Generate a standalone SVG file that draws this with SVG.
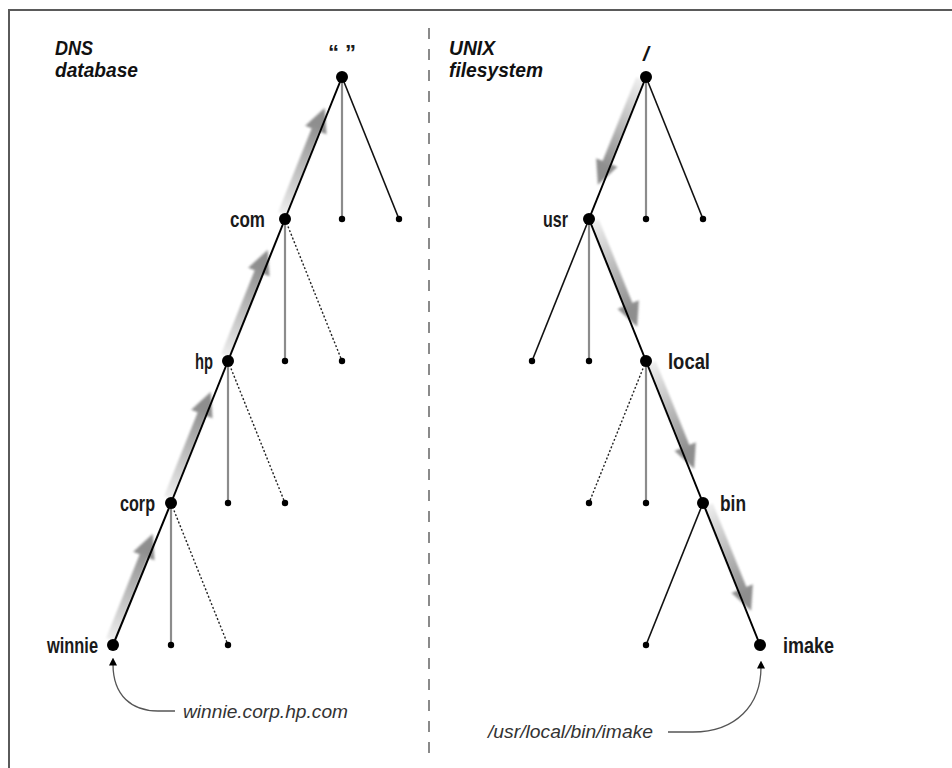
<svg xmlns="http://www.w3.org/2000/svg" xmlns:xlink="http://www.w3.org/1999/xlink" width="952" height="768" viewBox="0 0 952 768">
<style>
.frame{stroke:#5a5a5a;stroke-width:2;fill:none}
.div{stroke:#8a8a8a;stroke-width:2;stroke-dasharray:11 10;fill:none}
.blk{stroke:#111;stroke-width:1.6;fill:none}
.path{stroke:#000;stroke-width:2;fill:none}
.gry{stroke:#8c8c8c;stroke-width:2.2;fill:none}
.dot{stroke:#222;stroke-width:1.4;stroke-dasharray:2 2;fill:none}
.ann{stroke:#555;stroke-width:1.3;fill:none}
.big{fill:#000}
.leaf{fill:#000}
.lbl{font-family:"Liberation Sans",Arial,sans-serif;font-weight:bold;font-size:22px;fill:#1a1a1a}
.hdr{font-family:"Liberation Sans",Arial,sans-serif;font-weight:bold;font-style:italic;font-size:21px;fill:#111}
.cap{font-family:"Liberation Sans",Arial,sans-serif;font-style:italic;font-size:19px;fill:#333}
</style>
<defs>
<linearGradient id="bandGrad" x1="4" y1="0" x2="100" y2="0" gradientUnits="userSpaceOnUse">
<stop offset="0" stop-color="#eeeeee"/>
<stop offset="0.55" stop-color="#b8b8b8"/>
<stop offset="1" stop-color="#8e8e8e"/>
</linearGradient>
<filter id="soft" x="-20%" y="-50%" width="140%" height="200%">
<feGaussianBlur stdDeviation="0.8"/>
</filter>
<g id="shadow">
<path d="M4,0 L94,0 L94,7 L118,-4.5 L94,-16 L94,-9 L4,-9 Z" fill="url(#bandGrad)" filter="url(#soft)"/>
</g>
<marker id="tip" viewBox="0 0 10 10" refX="2" refY="5" markerWidth="8" markerHeight="8" orient="auto" markerUnits="userSpaceOnUse">
<path d="M0,0 L10,5 L0,10 Z" fill="#000"/>
</marker>
</defs>

<rect width="952" height="768" fill="#fff"/>
<path class="frame" d="M9,768 L9,10 L952,10"/>
<line class="div" x1="429" y1="28" x2="429" y2="756"/>

<g id="connectors">
<!-- shadow arrows DNS (upward) -->
<use xlink:href="#shadow" transform="translate(113,645) rotate(-68.13)"/>
<use xlink:href="#shadow" transform="translate(171,503) rotate(-68.13)"/>
<use xlink:href="#shadow" transform="translate(228,361) rotate(-68.13)"/>
<use xlink:href="#shadow" transform="translate(285,219) rotate(-68.13)"/>
<!-- shadow arrows UNIX (downward) -->
<use xlink:href="#shadow" transform="translate(646,77) rotate(111.87) scale(1,-1)"/>
<use xlink:href="#shadow" transform="translate(589,219) rotate(68.13)"/>
<use xlink:href="#shadow" transform="translate(646,361) rotate(68.13)"/>
<use xlink:href="#shadow" transform="translate(703,503) rotate(68.13)"/>

<!-- DNS tree -->
<line class="path" x1="342" y1="77" x2="285" y2="219"/>
<line class="gry" x1="342" y1="77" x2="342" y2="219"/>
<line class="blk" x1="342" y1="77" x2="399" y2="219"/>
<line class="path" x1="285" y1="219" x2="228" y2="361"/>
<line class="gry" x1="285" y1="219" x2="285" y2="361"/>
<line class="dot" x1="285" y1="219" x2="342" y2="361"/>
<line class="path" x1="228" y1="361" x2="171" y2="503"/>
<line class="gry" x1="228" y1="361" x2="228" y2="503"/>
<line class="dot" x1="228" y1="361" x2="285" y2="503"/>
<line class="path" x1="171" y1="503" x2="113" y2="645"/>
<line class="gry" x1="171" y1="503" x2="171" y2="645"/>
<line class="dot" x1="171" y1="503" x2="228" y2="645"/>

<!-- UNIX tree -->
<line class="path" x1="646" y1="77" x2="589" y2="219"/>
<line class="gry" x1="646" y1="77" x2="646" y2="219"/>
<line class="blk" x1="646" y1="77" x2="703" y2="219"/>
<line class="blk" x1="589" y1="219" x2="532" y2="361"/>
<line class="gry" x1="589" y1="219" x2="589" y2="361"/>
<line class="path" x1="589" y1="219" x2="646" y2="361"/>
<line class="dot" x1="646" y1="361" x2="589" y2="503"/>
<line class="gry" x1="646" y1="361" x2="646" y2="503"/>
<line class="path" x1="646" y1="361" x2="703" y2="503"/>
<line class="blk" x1="703" y1="503" x2="646" y2="645"/>
<line class="path" x1="703" y1="503" x2="760" y2="645"/>

<!-- annotation pointers -->
<path class="ann" d="M175,711 L158,711 C132,711 113,696 113,664" marker-end="url(#tip)"/>
<path class="ann" d="M668,732 L693,732 C736,732 761,705 761,667" marker-end="url(#tip)"/>
</g>

<g id="leaves">
<circle class="leaf" cx="342" cy="219" r="3.2"/>
<circle class="leaf" cx="399" cy="219" r="3.2"/>
<circle class="leaf" cx="285" cy="361" r="3.2"/>
<circle class="leaf" cx="342" cy="361" r="3.2"/>
<circle class="leaf" cx="228" cy="503" r="3.2"/>
<circle class="leaf" cx="285" cy="503" r="3.2"/>
<circle class="leaf" cx="171" cy="645" r="3.2"/>
<circle class="leaf" cx="228" cy="645" r="3.2"/>
<circle class="leaf" cx="646" cy="219" r="3.2"/>
<circle class="leaf" cx="703" cy="219" r="3.2"/>
<circle class="leaf" cx="532" cy="361" r="3.2"/>
<circle class="leaf" cx="589" cy="361" r="3.2"/>
<circle class="leaf" cx="589" cy="503" r="3.2"/>
<circle class="leaf" cx="646" cy="503" r="3.2"/>
<circle class="leaf" cx="646" cy="645" r="3.2"/>
</g>

<g id="dns-root"><circle class="big" cx="342" cy="77" r="6"/><text class="lbl" x="342" y="60" text-anchor="middle" font-size="10px">“ ”</text></g>
<g id="dns-com"><circle class="big" cx="285" cy="219" r="6"/><text class="lbl" x="230" y="227" textLength="35" lengthAdjust="spacingAndGlyphs">com</text></g>
<g id="dns-hp"><circle class="big" cx="228" cy="361" r="6"/><text class="lbl" x="195" y="369" textLength="18" lengthAdjust="spacingAndGlyphs">hp</text></g>
<g id="dns-corp"><circle class="big" cx="171" cy="503" r="6"/><text class="lbl" x="120" y="511" textLength="35" lengthAdjust="spacingAndGlyphs">corp</text></g>
<g id="dns-winnie"><circle class="big" cx="113" cy="645" r="6"/><text class="lbl" x="47" y="653" textLength="51" lengthAdjust="spacingAndGlyphs">winnie</text></g>

<g id="unix-root"><circle class="big" cx="646" cy="77" r="6"/><text class="hdr" x="646" y="61" text-anchor="middle">/</text></g>
<g id="unix-usr"><circle class="big" cx="589" cy="219" r="6"/><text class="lbl" x="543" y="227" textLength="25" lengthAdjust="spacingAndGlyphs">usr</text></g>
<g id="unix-local"><circle class="big" cx="646" cy="361" r="6"/><text class="lbl" x="668" y="369" textLength="42" lengthAdjust="spacingAndGlyphs">local</text></g>
<g id="unix-bin"><circle class="big" cx="703" cy="503" r="6"/><text class="lbl" x="720" y="511" textLength="26" lengthAdjust="spacingAndGlyphs">bin</text></g>
<g id="unix-imake"><circle class="big" cx="760" cy="645" r="6"/><text class="lbl" x="783" y="653" textLength="51" lengthAdjust="spacingAndGlyphs">imake</text></g>

<g id="headers">
<text class="hdr" x="55" y="55" textLength="38" lengthAdjust="spacingAndGlyphs">DNS</text>
<text class="hdr" x="55" y="77" textLength="83" lengthAdjust="spacingAndGlyphs">database</text>
<text class="hdr" x="449" y="55" textLength="46" lengthAdjust="spacingAndGlyphs">UNIX</text>
<text class="hdr" x="449" y="77" textLength="94" lengthAdjust="spacingAndGlyphs">filesystem</text>
</g>

<g id="captions">
<text class="cap" x="183" y="718" textLength="165" lengthAdjust="spacingAndGlyphs">winnie.corp.hp.com</text>
<text class="cap" x="488" y="738" textLength="165" lengthAdjust="spacingAndGlyphs">/usr/local/bin/imake</text>
</g>
</svg>
